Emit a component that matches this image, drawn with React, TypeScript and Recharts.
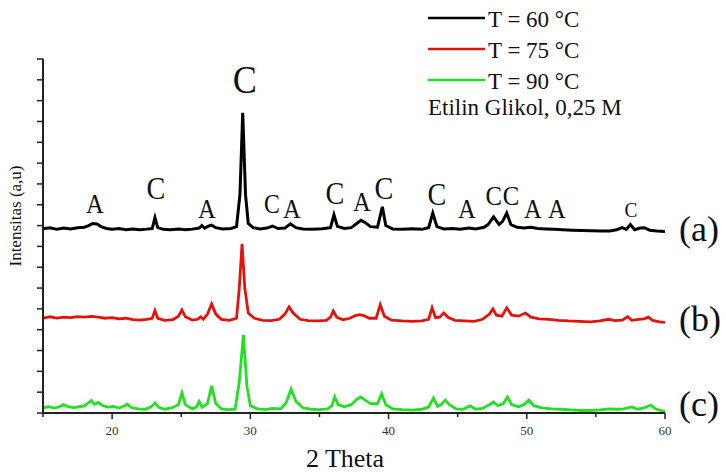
import { ComposedChart, Line, Scatter, XAxis, YAxis } from 'recharts';

// 2θ / intensity pairs, offset per trace (units = y-axis tick steps)
const trace60: [number, number][] = [
    [15, 8.85], [15.5, 8.9], [16, 8.82], [16.5, 8.88], [17, 8.84], [17.5, 8.9], [18, 8.92], [18.3, 9.0],
    [18.6, 9.1], [18.9, 9.08], [19.2, 8.95], [19.6, 8.86], [20, 8.82], [20.5, 8.86], [21, 8.8], [21.5, 8.84],
    [22, 8.8], [22.5, 8.83], [22.9, 8.86], [23.1, 9.38], [23.3, 8.9], [23.7, 8.82], [24.2, 8.8], [24.8, 8.84],
    [25.3, 8.8], [25.8, 8.83], [26.3, 8.88], [26.5, 9.0], [26.7, 8.88], [27.0, 8.98], [27.2, 9.02], [27.5, 8.9],
    [28, 8.84], [28.6, 8.86], [29.0, 8.95], [29.25, 10.5], [29.45, 14.42], [29.65, 10.5], [29.85, 9.1],
    [30.2, 8.9], [30.7, 8.84], [31.2, 8.88], [31.6, 8.98], [32.0, 8.86], [32.5, 8.88], [32.9, 9.08],
    [33.3, 8.9], [33.8, 8.84], [34.5, 8.82], [35.2, 8.85], [35.8, 8.9], [36.05, 9.52], [36.3, 8.96],
    [36.8, 8.86], [37.3, 8.9], [37.7, 9.1], [38.0, 9.25], [38.3, 9.15], [38.7, 8.95], [39.2, 8.92],
    [39.55, 9.9], [39.8, 9.0], [40.3, 8.84], [41, 8.82], [41.7, 8.85], [42.4, 8.82], [42.9, 8.9],
    [43.2, 9.6], [43.5, 8.95], [44, 8.84], [44.6, 8.86], [45.2, 8.82], [45.8, 8.88], [46.3, 8.84],
    [46.9, 8.92], [47.2, 9.05], [47.6, 9.42], [48.0, 9.05], [48.25, 9.2], [48.55, 9.6], [48.85, 9.05],
    [49.3, 8.92], [49.8, 8.88], [50.3, 8.92], [50.8, 8.86], [51.4, 8.84], [52, 8.82], [52.6, 8.8],
    [53.3, 8.78], [54, 8.76], [54.7, 8.75], [55.4, 8.74], [56, 8.74], [56.5, 8.8], [56.9, 8.9],
    [57.2, 8.82], [57.5, 9.05], [57.8, 8.8], [58.2, 8.88], [58.5, 8.9], [58.9, 8.78], [59.4, 8.74], [60, 8.72],
];

const trace75: [number, number][] = [
    [15, 4.55], [15.5, 4.62], [16, 4.56], [16.5, 4.6], [17, 4.58], [17.5, 4.63], [18, 4.6], [18.5, 4.64],
    [19, 4.6], [19.5, 4.55], [20, 4.58], [20.5, 4.52], [21, 4.55], [21.5, 4.48], [22, 4.46], [22.5, 4.5],
    [22.9, 4.55], [23.1, 4.92], [23.3, 4.55], [23.8, 4.45], [24.4, 4.48], [24.8, 4.65], [25.05, 4.95],
    [25.3, 4.62], [25.8, 4.46], [26.2, 4.5], [26.4, 4.62], [26.6, 4.5], [26.9, 4.75], [27.2, 5.24],
    [27.5, 4.75], [27.9, 4.5], [28.5, 4.45], [29.0, 4.55], [29.2, 6.0], [29.4, 8.12], [29.6, 6.0],
    [29.85, 4.8], [30.3, 4.55], [30.9, 4.45], [31.5, 4.44], [32.1, 4.5], [32.5, 4.75], [32.8, 5.1],
    [33.1, 4.8], [33.6, 4.5], [34.2, 4.44], [34.9, 4.42], [35.5, 4.45], [35.8, 4.6], [36.0, 4.9],
    [36.25, 4.6], [36.7, 4.48], [37.2, 4.55], [37.6, 4.68], [37.9, 4.72], [38.2, 4.68], [38.6, 4.55],
    [39.1, 4.55], [39.4, 5.2], [39.7, 4.65], [40.2, 4.46], [41, 4.42], [41.7, 4.4], [42.4, 4.42],
    [42.9, 4.5], [43.15, 5.05], [43.4, 4.58], [43.7, 4.6], [44.0, 4.8], [44.3, 4.6], [44.8, 4.45],
    [45.5, 4.42], [46.2, 4.4], [46.8, 4.5], [47.3, 4.75], [47.55, 5.0], [47.8, 4.7], [48.2, 4.65],
    [48.55, 5.05], [48.9, 4.7], [49.4, 4.65], [49.9, 4.8], [50.3, 4.6], [50.9, 4.52], [51.6, 4.5],
    [52.3, 4.45], [53, 4.42], [53.8, 4.4], [54.6, 4.38], [55.3, 4.42], [55.9, 4.5], [56.4, 4.44],
    [56.9, 4.46], [57.3, 4.62], [57.6, 4.45], [58.1, 4.5], [58.5, 4.52], [58.8, 4.6], [59.1, 4.45],
    [59.6, 4.38], [60, 4.35],
];

const trace90: [number, number][] = [
    [15, 0.25], [15.4, 0.3], [15.8, 0.24], [16.2, 0.3], [16.5, 0.4], [16.8, 0.3], [17.2, 0.26], [17.6, 0.3],
    [18.0, 0.34], [18.3, 0.5], [18.5, 0.6], [18.7, 0.42], [19.0, 0.5], [19.3, 0.36], [19.7, 0.28],
    [20.1, 0.32], [20.5, 0.24], [20.9, 0.35], [21.1, 0.42], [21.4, 0.25], [21.9, 0.2], [22.4, 0.18],
    [22.8, 0.28], [23.1, 0.48], [23.4, 0.26], [23.8, 0.18], [24.3, 0.24], [24.8, 0.4], [25.05, 0.96],
    [25.3, 0.4], [25.8, 0.2], [26.1, 0.28], [26.3, 0.55], [26.5, 0.28], [26.9, 0.45], [27.2, 1.3],
    [27.5, 0.45], [27.9, 0.2], [28.4, 0.16], [28.9, 0.18], [29.2, 1.5], [29.5, 3.75], [29.75, 1.3],
    [30.0, 0.35], [30.5, 0.2], [31.1, 0.16], [31.6, 0.22], [32.2, 0.2], [32.6, 0.5], [32.95, 1.15],
    [33.3, 0.55], [33.8, 0.25], [34.4, 0.18], [35.0, 0.16], [35.6, 0.2], [35.9, 0.35], [36.1, 0.77],
    [36.35, 0.4], [36.8, 0.3], [37.3, 0.4], [37.7, 0.65], [38.0, 0.77], [38.3, 0.62], [38.7, 0.45],
    [39.2, 0.45], [39.5, 0.91], [39.8, 0.4], [40.3, 0.2], [41, 0.16], [41.7, 0.14], [42.4, 0.18],
    [42.9, 0.28], [43.25, 0.72], [43.55, 0.32], [43.8, 0.4], [44.1, 0.62], [44.4, 0.4], [44.9, 0.2],
    [45.4, 0.18], [45.9, 0.34], [46.3, 0.18], [46.8, 0.22], [47.3, 0.4], [47.6, 0.53], [47.9, 0.35],
    [48.3, 0.45], [48.6, 0.77], [48.9, 0.4], [49.4, 0.3], [49.8, 0.4], [50.15, 0.62], [50.5, 0.35],
    [51.1, 0.25], [51.8, 0.2], [52.5, 0.18], [53.2, 0.15], [53.9, 0.12], [54.6, 0.12], [55.3, 0.15],
    [55.9, 0.2], [56.5, 0.18], [57.0, 0.2], [57.6, 0.29], [58.0, 0.18], [58.5, 0.24], [58.98, 0.38],
    [59.3, 0.2], [59.7, 0.12], [60, 0.06],
];

// phase marks over the 60 °C trace: [2θ, baseline height, letter, font size]
const phaseMarks: [number, number, string, number][] = [
    [18.76, 9.62, 'A', 28], [23.17, 10.29, 'C', 32], [26.86, 9.38, 'A', 28], [29.6, 15.38, 'C', 41],
    [31.56, 9.62, 'C', 27], [33.0, 9.38, 'A', 28], [36.12, 10.05, 'C', 32], [38.07, 9.71, 'A', 28],
    [39.67, 10.29, 'C', 32], [43.5, 10.0, 'C', 32], [45.67, 9.38, 'A', 28], [47.6, 10.0, 'C', 28],
    [48.85, 10.0, 'C', 28], [50.44, 9.38, 'A', 28], [52.18, 9.38, 'A', 28], [57.53, 9.42, 'C', 22],
];

const xTicks = [15, 20, 25, 30, 35, 40, 45, 50, 55, 60];
const xLabelled = [20, 30, 40, 50, 60];
const yTicks = [0, 1, 2, 3, 4, 5, 6, 7, 8, 9, 10, 11, 12, 13, 14, 15, 16, 17];

const legendRows = [
    { label: 'T = 60 °C', color: '#000000' },
    { label: 'T = 75 °C', color: '#e3120b' },
    { label: 'T = 90 °C', color: '#22e022' },
];

const serif = '"Liberation Serif", "DejaVu Serif", serif';

const toPoints = (rows: [number, number][]) => rows.map(([x, y]) => ({ x, y }));

function XTick(props: any) {
    const { x, y, payload } = props;
    const major = xLabelled.includes(payload.value);
    return (
        <g>
            <line x1={x} x2={x} y1={y} y2={y + (major ? 6 : 4)} stroke="#222" strokeWidth={1.5} />
            {major && (
                <text x={x} y={y + 22} textAnchor="middle" fontFamily={serif} fontSize={13} fill="#333">
                    {payload.value}
                </text>
            )}
        </g>
    );
}

function PhaseLetter(props: any) {
    const { cx, cy, payload } = props;
    return (
        <text
            transform={`translate(${cx},${cy}) scale(0.88,1)`}
            textAnchor="middle"
            fontFamily={serif}
            fontSize={payload.size}
            fill="#111"
        >
            {payload.label}
        </text>
    );
}

export default function App() {
    const marks = phaseMarks.map(([x, y, label, size]) => ({ x, y, label, size }));

    return (
        <div style={{ position: 'absolute', left: 0, top: 0, width: 726, height: 475, background: '#fff' }}>
            <ComposedChart width={726} height={475} margin={{ top: 59, right: 61, bottom: 32, left: 13 }}>
                <XAxis
                    type="number"
                    dataKey="x"
                    domain={[15, 60]}
                    ticks={xTicks}
                    interval={0}
                    height={30}
                    tickSize={0}
                    tickMargin={0}
                    tickLine={false}
                    tick={<XTick />}
                    axisLine={{ stroke: '#222', strokeWidth: 2 }}
                    allowDataOverflow
                />
                <YAxis
                    type="number"
                    domain={[0, 17]}
                    ticks={yTicks}
                    interval={0}
                    width={30}
                    tickSize={6}
                    tickFormatter={() => ''}
                    tickLine={{ stroke: '#222', strokeWidth: 1.5 }}
                    axisLine={{ stroke: '#222', strokeWidth: 2 }}
                    allowDataOverflow
                />
                <Line data={toPoints(trace60)} dataKey="y" stroke="#000000" strokeWidth={3} dot={false} isAnimationActive={false} />
                <Line data={toPoints(trace75)} dataKey="y" stroke="#e3120b" strokeWidth={2.8} dot={false} isAnimationActive={false} />
                <Line data={toPoints(trace90)} dataKey="y" stroke="#22e022" strokeWidth={2.8} dot={false} isAnimationActive={false} />
                <Scatter data={marks} dataKey="y" shape={<PhaseLetter />} isAnimationActive={false} />
            </ComposedChart>

            <svg width={726} height={475} style={{ position: 'absolute', left: 0, top: 0, pointerEvents: 'none' }}>
                {legendRows.map((row, i) => (
                    <g key={row.label}>
                        <line x1={428} x2={485} y1={18 + i * 31} y2={18 + i * 31} stroke={row.color} strokeWidth={2.5} />
                        <text x={488} y={27 + i * 31} fontFamily={serif} fontSize={23} fill="#111">
                            {row.label}
                        </text>
                    </g>
                ))}
                <text x={428} y={115} fontFamily={serif} fontSize={23} fill="#111">
                    Etilin Glikol, 0,25 M
                </text>
                <text x={679} y={241} fontFamily={serif} fontSize={36} fill="#111">(a)</text>
                <text x={679} y={331} fontFamily={serif} fontSize={36} fill="#111">(b)</text>
                <text x={679} y={416} fontFamily={serif} fontSize={36} fill="#111">(c)</text>
                <text x={345} y={467} textAnchor="middle" fontFamily={serif} fontSize={26} fill="#111">
                    2 Theta
                </text>
                <text
                    transform="translate(21,216) rotate(-90)"
                    textAnchor="middle"
                    fontFamily={serif}
                    fontSize={17}
                    fill="#111"
                >
                    Intensitas (a,u)
                </text>
            </svg>
        </div>
    );
}
